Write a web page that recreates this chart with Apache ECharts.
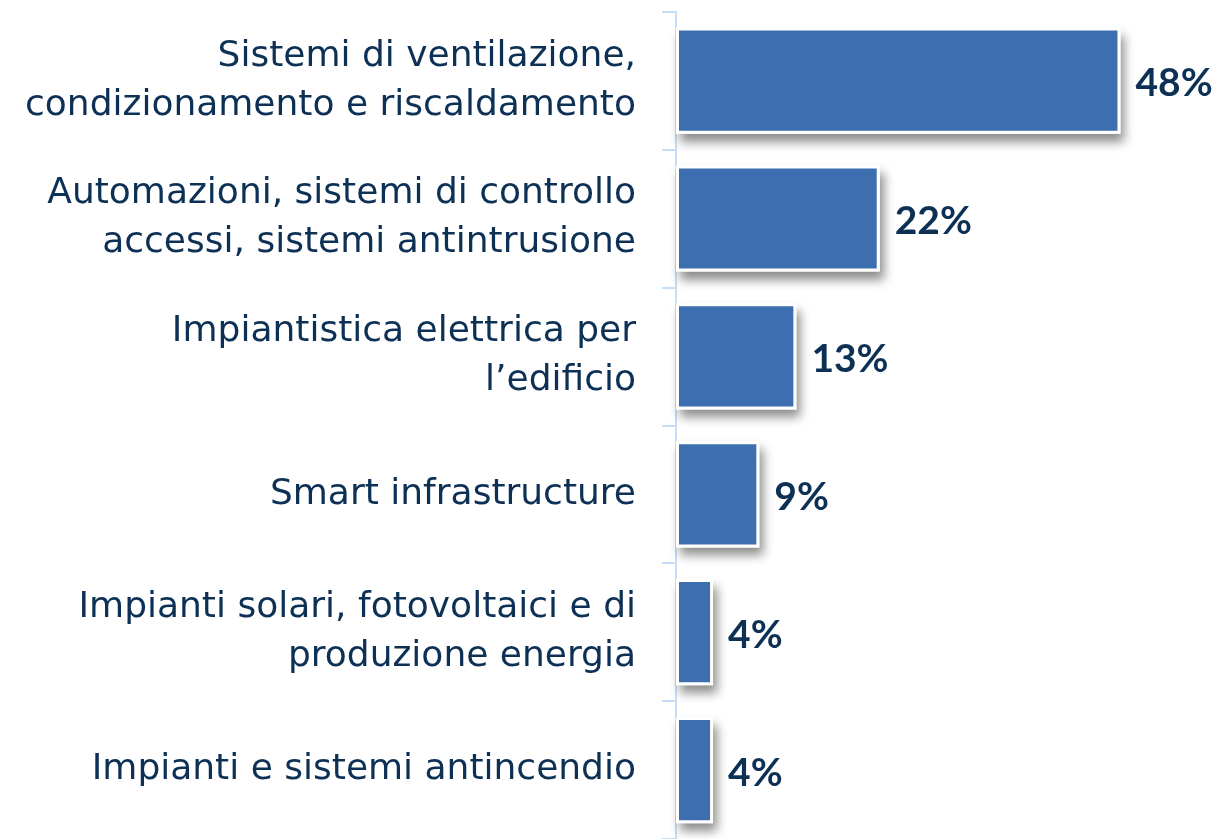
<!DOCTYPE html>
<html>
<head>
<meta charset="utf-8">
<script src="https://cdn.jsdelivr.net/npm/echarts@6/dist/echarts.min.js"></script>
<style>
html,body{margin:0;padding:0;background:#fff;}
#chart{width:1220px;height:839px;}
</style>
</head>
<body>
<div id="chart"></div>
<script>
const categories = [
  "Sistemi di ventilazione,\ncondizionamento e riscaldamento",
  "Automazioni, sistemi di controllo\naccessi, sistemi antintrusione",
  "Impiantistica elettrica per\nl\u2019edificio",
  "Smart infrastructure",
  "Impianti solari, fotovoltaici e di\nproduzione energia",
  "Impianti e sistemi antincendio"
];
const values = [48, 22, 13, 9, 4, 4];

const chart = echarts.init(document.getElementById('chart'), null, {renderer: 'canvas'});
chart.setOption({
  animation: false,
  backgroundColor: '#ffffff',
  grid: {left: 676, right: 81, top: 11.7, bottom: -4, containLabel: false},
  xAxis: {
    type: 'value', min: 0, max: 50, show: false
  },
  yAxis: {
    type: 'category',
    inverse: true,
    data: categories,
    axisLine: {show: true, lineStyle: {color: '#C6DEF6', width: 2}},
    axisTick: {show: true, length: 14, lineStyle: {color: '#C6DEF6', width: 2}},
    axisLabel: {
      margin: 40,
      color: '#0D3055',
      fontFamily: 'DejaVu Sans',
      fontSize: 36,
      lineHeight: 49,
      align: 'right'
    }
  },
  series: [{
    type: 'bar',
    data: values,
    barCategoryGap: '23%',
    barGap: '-100%',
    silent: true,
    z: 1,
    itemStyle: {
      color: '#ffffff',
      shadowColor: 'rgba(0,0,0,0.45)',
      shadowBlur: 10,
      shadowOffsetX: 4,
      shadowOffsetY: 8
    }
  }, {
    type: 'bar',
    data: values,
    barCategoryGap: '23%',
    barGap: '-100%',
    z: 2,
    itemStyle: {
      color: '#3D6FB0',
      borderColor: '#ffffff',
      borderWidth: 3
    },
    label: {
      show: true,
      position: 'right',
      distance: 15,
      offset: [0, 3],
      formatter: '{c}%',
      color: '#0D3055',
      fontFamily: 'Lato',
      fontWeight: 'bold',
      fontSize: 39
    }
  }]
});
</script>
</body>
</html>
